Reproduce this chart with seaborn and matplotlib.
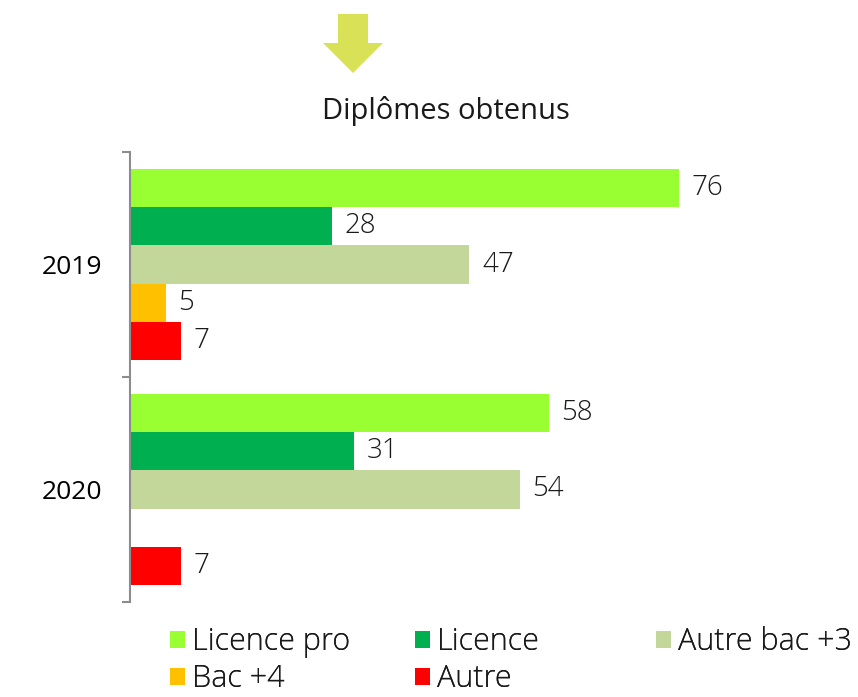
import matplotlib
matplotlib.use("Agg")
from matplotlib import pyplot as plt
from matplotlib.patches import Polygon, Patch
import seaborn as sns
import pandas as pd
import numpy as np

years = ["2019", "2020"]
diplomes = ["Licence pro", "Licence", "Autre bac +3", "Bac +4", "Autre"]
values_2019 = [76, 28, 47, 5, 7]
values_2020 = [58, 31, 54, np.nan, 7]
colors = ["#99FF33", "#00B050", "#C4D79B", "#FFC000", "#FF0000"]

FONT = "Open Sans"
TXT = "#1a1a1a"

df = pd.DataFrame({
    "annee": np.repeat(years, len(diplomes)),
    "diplome": diplomes * len(years),
    "nombre": values_2019 + values_2020,
})

sns.set_style("white")
plt.rcParams["font.family"] = [FONT, "DejaVu Sans"]
plt.rcParams["font.weight"] = "light"

fig = plt.figure(figsize=(8.58, 6.97), dpi=100)
ax = fig.add_axes([130 / 858, 1 - 602 / 697, 1 - 130 / 858, (602 - 152) / 697])

sns.barplot(data=df, y="annee", x="nombre", hue="diplome", hue_order=diplomes,
            order=years, palette=colors, orient="h", width=0.845,
            linewidth=0, saturation=1, legend=False, ax=ax)

for cont in ax.containers:
    labels = ["" if np.isnan(v) else f"{v:.0f}" for v in cont.datavalues]
    ax.bar_label(cont, labels=labels, padding=9, fontsize=20, color=TXT)

ax.set_xlim(0, 100.8)
ax.set_ylim(1.5, -0.5)
ax.set_xlabel("")
ax.set_ylabel("")
ax.set_xticks([])
for s in ["top", "right", "bottom"]:
    ax.spines[s].set_visible(False)
ax.spines["left"].set_color("#8c8c8c")
ax.spines["left"].set_linewidth(1.5)

# major ticks carry the year labels, minor ticks mark the group boundaries
ax.set_yticks([0, 1])
ax.set_yticklabels(years, fontsize=19, color="black", fontweight="normal")
ax.tick_params(axis="y", which="major", length=0, pad=20)
ax.set_yticks([-0.5, 0.5, 1.5], minor=True)
ax.tick_params(axis="y", which="minor", length=6, width=1.5, color="#8c8c8c", direction="out", left=True)

# title + arrow
fig.text(446 / 858, 1 - 111 / 697, "Diplômes obtenus", ha="center", va="center",
         fontsize=21, fontweight="normal", color=TXT)
arrow_px = [(338, 14), (368, 14), (368, 43), (383, 43), (353, 73), (323, 43), (338, 43)]
arrow = Polygon([(x / 858, 1 - y / 697) for x, y in arrow_px], closed=True,
                transform=fig.transFigure, facecolor="#D9E157", edgecolor="none")
fig.patches.append(arrow)

# legend in three evenly spaced columns
handles = {d: Patch(facecolor=c, edgecolor="none") for d, c in zip(diplomes, colors)}
columns = [(["Licence pro", "Bac +4"], 170), (["Licence", "Autre"], 415), (["Autre bac +3"], 656)]
for labs, x in columns:
    leg = fig.legend([handles[l] for l in labs], labs, loc="upper left",
                     bbox_to_anchor=(x / 858, 1 - 626 / 697), frameon=False,
                     fontsize=22, handlelength=0.49, handleheight=0.49,
                     handletextpad=0.22, labelspacing=0.17, borderpad=0, borderaxespad=0,
                     labelcolor=TXT)
    fig.add_artist(leg)

fig.savefig("out.png", dpi=100)
